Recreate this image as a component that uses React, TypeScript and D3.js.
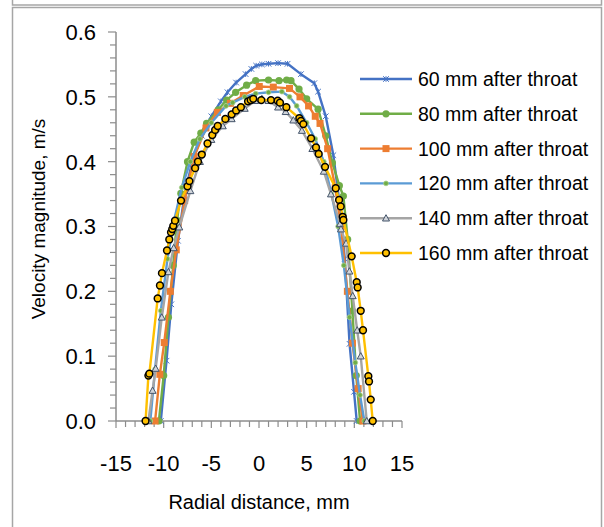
import React, { useEffect, useRef } from 'react';
import * as d3 from 'd3';

// Series labels and colours (Excel default palette)
const seriesNames = [
  '60 mm after throat',
  '80 mm after throat',
  '100 mm after throat',
  '120 mm after throat',
  '140 mm after throat',
  '160 mm after throat',
];

// [radial distance mm, velocity m/s]
const s60: [number, number][] = [
  [-10.3, 0], [-9.7, 0.093], [-9.2, 0.18], [-8.5, 0.278], [-7.8, 0.35], [-7.0, 0.4],
  [-6.0, 0.44], [-5.0, 0.47], [-4.0, 0.493], [-3.3, 0.507], [-2.4, 0.522], [-1.4, 0.535],
  [-0.8, 0.543], [-0.3, 0.548], [0.3, 0.55], [1.0, 0.551], [2.0, 0.552], [3.0, 0.551],
  [4.4, 0.535], [5.8, 0.521], [6.2, 0.508], [7.0, 0.47], [7.8, 0.41], [8.5, 0.33],
  [9.0, 0.25], [9.5, 0.119], [9.97, 0.045], [10.25, 0],
];
const s80: [number, number][] = [
  [-10.5, 0], [-10.0, 0.07], [-9.5, 0.16], [-9.0, 0.24], [-8.6, 0.31], [-8.2, 0.351],
  [-7.5, 0.4], [-6.8, 0.43], [-6.1, 0.444], [-5.5, 0.459], [-4.27, 0.48], [-3.4, 0.495],
  [-2.45, 0.507], [-1.3, 0.518], [-0.35, 0.525], [1.0, 0.526], [2.1, 0.525], [2.9, 0.526],
  [3.36, 0.525], [4.2, 0.512], [5.0, 0.497], [6.2, 0.481], [7.0, 0.44], [7.7, 0.398],
  [8.43, 0.363], [8.85, 0.347], [9.3, 0.28], [9.8, 0.17], [10.2, 0.07], [10.6, 0],
];
const s100: [number, number][] = [
  [-10.9, 0], [-10.4, 0.072], [-9.94, 0.121], [-9.3, 0.2], [-8.68, 0.264], [-7.8, 0.34],
  [-6.8, 0.408], [-5.56, 0.452], [-4.37, 0.476], [-3.0, 0.49], [-1.65, 0.502], [0.03, 0.516],
  [1.5, 0.515], [3.2, 0.513], [4.3, 0.5], [5.2, 0.486], [5.9, 0.47], [6.4, 0.459],
  [7.2, 0.42], [8.0, 0.36], [8.6, 0.3], [9.27, 0.2], [9.8, 0.12], [10.4, 0.05], [10.9, 0],
];
const s120: [number, number][] = [
  [-11.4, 0], [-10.9, 0.08], [-10.3, 0.17], [-9.6, 0.25], [-8.9, 0.31], [-8.1, 0.36],
  [-7.2, 0.4], [-6.2, 0.435], [-5.0, 0.46], [-3.46, 0.486], [-2.76, 0.491], [-1.5, 0.5],
  [-0.35, 0.505], [1.0, 0.507], [2.4, 0.508], [3.2, 0.5], [3.95, 0.486], [5.0, 0.46],
  [5.9, 0.435], [6.8, 0.4], [7.6, 0.35], [8.3, 0.3], [8.9, 0.24], [9.5, 0.16],
  [10.1, 0.09], [10.6, 0.04], [11.05, 0],
];
const s140: [number, number][] = [
  [-11.6, 0], [-11.16, 0.047], [-10.84, 0.081], [-10.2, 0.16], [-9.5, 0.23], [-8.95, 0.267],
  [-8.36, 0.299], [-7.2, 0.355], [-6.2, 0.4], [-5.0, 0.434], [-3.8, 0.455], [-2.87, 0.466],
  [-1.5, 0.482], [-0.4, 0.494], [0.3, 0.497], [1.0, 0.494], [2.0, 0.484], [2.8, 0.477],
  [3.6, 0.464], [4.5, 0.448], [5.6, 0.42], [6.8, 0.385], [7.55, 0.35], [8.5, 0.304],
  [8.6, 0.296], [9.13, 0.274], [9.48, 0.231], [9.83, 0.193], [10.3, 0.14], [10.67, 0.1],
  [11.3, 0],
];
const s160: [number, number][] = [
  [-11.9, 0], [-11.6, 0.07], [-11.5, 0.073], [-10.63, 0.189], [-10.39, 0.209], [-10.18, 0.228],
  [-9.65, 0.263], [-9.41, 0.28], [-9.23, 0.291], [-9.1, 0.296], [-8.99, 0.301], [-8.81, 0.309],
  [-8.18, 0.34], [-7.5, 0.362], [-7.3, 0.37], [-6.7, 0.39], [-6.4, 0.4], [-6.0, 0.411],
  [-5.4, 0.428], [-4.9, 0.441], [-4.6, 0.449], [-4.33, 0.455], [-3.53, 0.466], [-2.87, 0.473],
  [-2.4, 0.479], [-1.9, 0.484], [-1.15, 0.493], [-0.87, 0.495], [-0.6, 0.497], [0.24, 0.495],
  [1.26, 0.495], [1.96, 0.494], [2.2, 0.491], [2.87, 0.484], [4.23, 0.467], [4.4, 0.463],
  [4.65, 0.458], [5.46, 0.436], [5.98, 0.422], [6.26, 0.412], [6.93, 0.392], [8.05, 0.359],
  [8.4, 0.341], [8.57, 0.331], [8.78, 0.315], [8.85, 0.31], [9.72, 0.254], [10.25, 0.214],
  [10.35, 0.206], [10.67, 0.17], [10.91, 0.14], [11.47, 0.069], [11.54, 0.061], [11.72, 0.033],
  [11.93, 0],
];

const xTicks = [-15, -10, -5, 0, 5, 10, 15];
const yTicks = [0, 0.1, 0.2, 0.3, 0.4, 0.5, 0.6];

const allSeries = [s60, s80, s100, s120, s140, s160];
const lineColors = ['#4472C4', '#70AD47', '#ED7D31', '#5B9BD5', '#A5A5A5', '#FFC000'];

function drawMarker(g: any, kind: number, cx: number, cy: number) {
  if (kind === 0) {
    // asterisk
    const r = 2.8;
    g.append('path')
      .attr('d', `M${cx - r},${cy - r}L${cx + r},${cy + r}M${cx - r},${cy + r}L${cx + r},${cy - r}M${cx},${cy - r}L${cx},${cy + r}`)
      .attr('stroke', '#4472C4')
      .attr('stroke-width', 1);
  } else if (kind === 1) {
    g.append('circle').attr('cx', cx).attr('cy', cy).attr('r', 3.6).attr('fill', '#70AD47');
  } else if (kind === 2) {
    g.append('rect').attr('x', cx - 3.5).attr('y', cy - 3.5).attr('width', 7).attr('height', 7).attr('fill', '#ED7D31');
  } else if (kind === 3) {
    g.append('circle').attr('cx', cx).attr('cy', cy).attr('r', 2.4)
      .attr('fill', '#70AD47').attr('stroke', '#A9D18E').attr('stroke-width', 0.8);
  } else if (kind === 4) {
    const s = 3.5;
    g.append('path')
      .attr('d', `M${cx},${cy - s}L${cx + s},${cy + s * 0.8}L${cx - s},${cy + s * 0.8}Z`)
      .attr('fill', '#D0D4DA').attr('stroke', '#44546A').attr('stroke-width', 1);
  } else {
    g.append('circle').attr('cx', cx).attr('cy', cy).attr('r', 3.4)
      .attr('fill', '#FFC000').attr('stroke', '#000').attr('stroke-width', 1.5);
  }
}

export default function App() {
  const ref = useRef<SVGSVGElement | null>(null);

  useEffect(() => {
    const svg = d3.select(ref.current);
    svg.selectAll('*').remove();

    const axisColor = '#8C8C8C';
    const tickFont = '"Liberation Sans", Arial, sans-serif';

    // Frames
    svg.append('rect').attr('x', 12.5).attr('y', -10).attr('width', 589).attr('height', 15)
      .attr('fill', 'none').attr('stroke', '#A6A6A6').attr('stroke-width', 1.5);
    svg.append('rect').attr('x', 12.5).attr('y', 7.5).attr('width', 589).attr('height', 540)
      .attr('fill', 'none').attr('stroke', '#A6A6A6').attr('stroke-width', 1.5);

    const x = d3.scaleLinear().domain([-15, 15]).range([116, 402]);
    const y = d3.scaleLinear().domain([0, 0.6]).range([421, 32]);

    // y axis
    svg.append('line').attr('x1', 116).attr('x2', 116).attr('y1', y(0.6)).attr('y2', y(0))
      .attr('stroke', axisColor).attr('stroke-width', 1.5);
    d3.range(0, 31).forEach(i => {
      const v = i * 0.02;
      const major = i % 5 === 0;
      svg.append('line').attr('x1', 116 - (major ? 8 : 6)).attr('x2', 116)
        .attr('y1', y(v)).attr('y2', y(v))
        .attr('stroke', axisColor).attr('stroke-width', 1.2);
    });
    yTicks.forEach(v => {
      svg.append('text').text(v.toFixed(1))
        .attr('x', 96).attr('y', y(v)).attr('dy', '0.36em')
        .attr('text-anchor', 'end')
        .attr('font-family', tickFont).attr('font-size', 22).attr('fill', '#000');
    });

    // x axis
    svg.append('line').attr('x1', x(-15)).attr('x2', x(15)).attr('y1', y(0)).attr('y2', y(0))
      .attr('stroke', axisColor).attr('stroke-width', 1.5);
    d3.range(-15, 16).forEach(v => {
      const major = v % 5 === 0;
      svg.append('line').attr('x1', x(v)).attr('x2', x(v))
        .attr('y1', y(0)).attr('y2', y(0) + (major ? 7 : 6))
        .attr('stroke', axisColor).attr('stroke-width', 1.2);
    });
    xTicks.forEach(v => {
      svg.append('text').text(String(v))
        .attr('x', x(v)).attr('y', 463).attr('dy', '0.36em')
        .attr('text-anchor', 'middle')
        .attr('font-family', tickFont).attr('font-size', 22).attr('fill', '#000');
    });

    // Axis titles
    svg.append('text').text('Radial distance, mm')
      .attr('x', 259).attr('y', 509).attr('text-anchor', 'middle')
      .attr('font-family', tickFont).attr('font-size', 20).attr('fill', '#000');
    svg.append('text').text('Velocity magnitude, m/s')
      .attr('transform', 'translate(45, 219) rotate(-90)')
      .attr('text-anchor', 'middle')
      .attr('font-family', tickFont).attr('font-size', 19).attr('fill', '#000');

    // Series
    const line = d3.line<[number, number]>().x(d => x(d[0])).y(d => y(d[1]));
    allSeries.forEach((data, i) => {
      const g = svg.append('g');
      g.append('path').datum(data).attr('d', line)
        .attr('fill', 'none').attr('stroke', lineColors[i])
        .attr('stroke-width', 2.4).attr('stroke-linejoin', 'round');
      data.forEach(d => drawMarker(g, i, x(d[0]), y(d[1])));
    });

    // Legend
    seriesNames.forEach((name, i) => {
      const cy = 79 + i * 34.8;
      const g = svg.append('g');
      g.append('line').attr('x1', 360).attr('x2', 412).attr('y1', cy).attr('y2', cy)
        .attr('stroke', lineColors[i]).attr('stroke-width', 2.4);
      drawMarker(g, i, 386, cy);
      g.append('text').text(name)
        .attr('x', 418).attr('y', cy).attr('dy', '0.36em')
        .attr('font-family', tickFont).attr('font-size', 19.5).attr('fill', '#000');
    });
  }, []);

  return (
    <svg
      ref={ref}
      width={604}
      height={527}
      style={{ position: 'absolute', left: 0, top: 0, background: '#fff' }}
    />
  );
}
